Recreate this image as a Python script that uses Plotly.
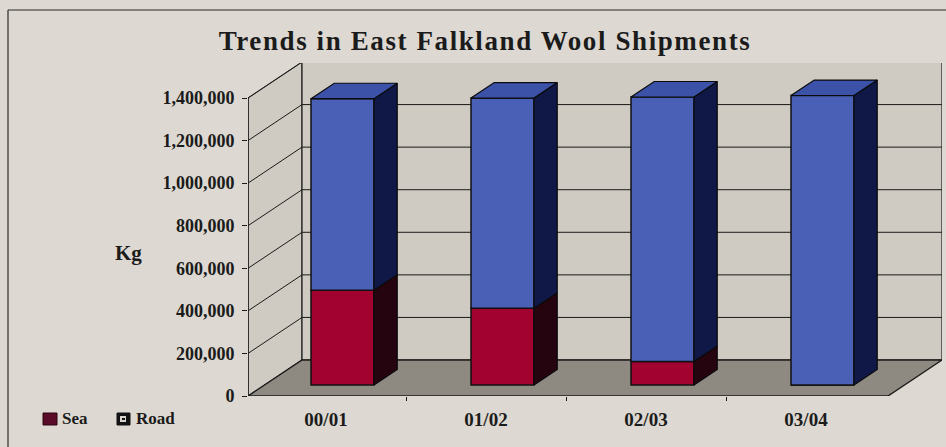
import plotly.graph_objects as go

# ---- data -------------------------------------------------------------
periods = ["00/01", "01/02", "02/03", "03/04"]
sea_kg = [445000, 360000, 110000, 0]
road_kg = [900000, 988000, 1243000, 1360000]
y_ticks = [0, 200000, 400000, 600000, 800000, 1000000, 1200000, 1400000]

# ---- page / projection geometry (pixels) -------------------------------
W, H = 946, 447
ML, MR, MT, MB = 248, 4, 63, 51
PW, PH = W - ML - MR, H - MT - MB
PX_PER_X = 160.0                     # pixels per category step
Y_MAX = y_ticks[-1]
Y_PER_PX = Y_MAX / 298.0             # kg per pixel on the front plane
XMIN = -0.4875                       # left edge of the floor (front)
N_CAT = len(periods)

WALL_DX = 54 / PX_PER_X              # oblique depth offset of the walls
WALL_DY = 36 * Y_PER_PX
BAR_D0 = 11 / 36                     # depth at which the bar fronts sit
BAR_DEPTH = 0.43                     # bar depth as a fraction of wall depth
BAR_W = 63 / PX_PER_X

x_range = [XMIN, XMIN + PW / PX_PER_X]
y_range = [0, PH * Y_PER_PX]


def poly(points):
    return "M " + " L ".join(f"{x},{y}" for x, y in points) + " Z"


WALL = "#cfcbc3"
FLOOR = "#8e8a81"
INK = "#1b1b1b"

shapes = []
# left wall, back wall, floor
shapes.append(dict(type="path", xref="x", yref="y", layer="below",
                   path=poly([(XMIN, 0), (XMIN, Y_MAX),
                              (XMIN + WALL_DX, Y_MAX + WALL_DY),
                              (XMIN + WALL_DX, WALL_DY)]),
                   fillcolor=WALL, line=dict(color=INK, width=1)))
shapes.append(dict(type="path", xref="x", yref="y", layer="below",
                   path=poly([(XMIN + WALL_DX, WALL_DY),
                              (XMIN + N_CAT + WALL_DX, WALL_DY),
                              (XMIN + N_CAT + WALL_DX, Y_MAX + WALL_DY),
                              (XMIN + WALL_DX, Y_MAX + WALL_DY)]),
                   fillcolor=WALL, line=dict(color=INK, width=1.2)))
shapes.append(dict(type="path", xref="x", yref="y", layer="below",
                   path=poly([(XMIN, 0), (XMIN + N_CAT, 0),
                              (XMIN + N_CAT + WALL_DX, WALL_DY),
                              (XMIN + WALL_DX, WALL_DY)]),
                   fillcolor=FLOOR, line=dict(color=INK, width=1.4)))
# gridlines across the left wall and the back wall
for v in y_ticks[1:]:
    shapes.append(dict(type="line", xref="x", yref="y", layer="below",
                       x0=XMIN, y0=v, x1=XMIN + WALL_DX, y1=v + WALL_DY,
                       line=dict(color=INK, width=1)))
    shapes.append(dict(type="line", xref="x", yref="y", layer="below",
                       x0=XMIN + WALL_DX, y0=v + WALL_DY,
                       x1=XMIN + N_CAT + WALL_DX, y1=v + WALL_DY,
                       line=dict(color=INK, width=1)))
# value axis line
shapes.append(dict(type="line", xref="x", yref="y", layer="above",
                   x0=XMIN, y0=-6 * Y_PER_PX, x1=XMIN, y1=Y_MAX,
                   line=dict(color=INK, width=1.5)))

# ---- bars -------------------------------------------------------------
SEA_FRONT, SEA_SIDE = "#a1022f", "#26040f"
ROAD_FRONT, ROAD_SIDE, ROAD_TOP = "#4a60b6", "#101848", "#3c52a8"

x_front = [i + BAR_D0 * WALL_DX for i in range(N_CAT)]
base0 = BAR_D0 * WALL_DY
bdx = BAR_DEPTH * WALL_DX
bdy = BAR_DEPTH * WALL_DY

sea_base = [base0] * N_CAT
road_base = [base0 + s for s in sea_kg]

fig = go.Figure()
fig.add_trace(go.Bar(x=x_front, y=sea_kg, base=sea_base, width=BAR_W,
                     name="Sea", marker=dict(color=SEA_FRONT,
                                             line=dict(color="#111", width=1.5)),
                     customdata=periods,
                     hovertemplate="%{customdata}<br>Sea: %{y:,} kg<extra></extra>"))
fig.add_trace(go.Bar(x=x_front, y=road_kg, base=road_base, width=BAR_W,
                     name="Road", marker=dict(color=ROAD_FRONT,
                                              line=dict(color="#111", width=1.5)),
                     customdata=periods,
                     hovertemplate="%{customdata}<br>Road: %{y:,} kg<extra></extra>"))


def side_faces(bases, values):
    xs, ys = [], []
    for xc, b, v in zip(x_front, bases, values):
        if v <= 0:
            continue
        xr = xc + BAR_W / 2
        for px, py in [(xr, b), (xr + bdx, b + bdy), (xr + bdx, b + v + bdy),
                       (xr, b + v), (xr, b)]:
            xs.append(px)
            ys.append(py)
        xs.append(None)
        ys.append(None)
    return xs, ys


def top_faces():
    xs, ys = [], []
    for xc, s, r in zip(x_front, sea_kg, road_kg):
        top = base0 + s + r
        xl, xr = xc - BAR_W / 2, xc + BAR_W / 2
        for px, py in [(xl, top), (xr, top), (xr + bdx, top + bdy),
                       (xl + bdx, top + bdy), (xl, top)]:
            xs.append(px)
            ys.append(py)
        xs.append(None)
        ys.append(None)
    return xs, ys


for (xs, ys), col in [(side_faces(sea_base, sea_kg), SEA_SIDE),
                      (side_faces(road_base, road_kg), ROAD_SIDE),
                      (top_faces(), ROAD_TOP)]:
    fig.add_trace(go.Scatter(x=xs, y=ys, mode="lines", fill="toself",
                             fillcolor=col, line=dict(color="#0a0a0a", width=1.2),
                             hoverinfo="skip", showlegend=False))


# ---- legend, labels and frame (pixel helpers) --------------------------
def px_x(px):
    return (px - ML) / PW


def px_y(py):
    return (H - MB - py) / PH


shapes.append(dict(type="rect", xref="paper", yref="paper", layer="above",
                   x0=px_x(43), x1=px_x(57), y0=px_y(425), y1=px_y(413),
                   fillcolor="#5a0b27", line=dict(color="#2a0510", width=1)))
shapes.append(dict(type="rect", xref="paper", yref="paper", layer="above",
                   x0=px_x(117), x1=px_x(130), y0=px_y(425), y1=px_y(413),
                   fillcolor="#121212", line=dict(color="#121212", width=1)))
shapes.append(dict(type="rect", xref="paper", yref="paper", layer="above",
                   x0=px_x(120), x1=px_x(126), y0=px_y(422), y1=px_y(416),
                   fillcolor="#d8d4cc", line=dict(width=0)))
shapes.append(dict(type="rect", xref="paper", yref="paper", layer="above",
                   x0=px_x(122), x1=px_x(125), y0=px_y(420), y1=px_y(418),
                   fillcolor="#121212", line=dict(width=0)))
# outer frame
shapes.append(dict(type="line", xref="paper", yref="paper", layer="above",
                   x0=px_x(8), x1=px_x(W + 2), y0=px_y(10), y1=px_y(10),
                   line=dict(color="#2a2a2a", width=1.2)))
shapes.append(dict(type="line", xref="paper", yref="paper", layer="above",
                   x0=px_x(8), x1=px_x(8), y0=px_y(10), y1=px_y(H + 2),
                   line=dict(color="#2a2a2a", width=1.2)))

SERIF = "Liberation Serif"
annotations = [
    dict(text="<b>Kg</b>", xref="paper", yref="paper", x=px_x(128), y=px_y(253),
         showarrow=False, font=dict(family=SERIF, size=21, color=INK),
         xanchor="center", yanchor="middle"),
    dict(text="<b>Sea</b>", xref="paper", yref="paper", x=px_x(60), y=px_y(419),
         showarrow=False, font=dict(family=SERIF, size=17, color=INK),
         xanchor="left", yanchor="middle"),
    dict(text="<b>Road</b>", xref="paper", yref="paper", x=px_x(134), y=px_y(419),
         showarrow=False, font=dict(family=SERIF, size=17, color=INK),
         xanchor="left", yanchor="middle"),
]

fig.update_layout(
    width=W, height=H,
    margin=dict(l=ML, r=MR, t=MT, b=MB, pad=0),
    paper_bgcolor="#ddd9d2", plot_bgcolor="#ddd9d2",
    barmode="overlay", showlegend=False,
    title=dict(text='<span style="letter-spacing:1.6px"><b>Trends in East '
                    'Falkland Wool Shipments</b></span>',
               x=485 / W, xanchor="center", y=1 - 41 / H, yanchor="middle",
               font=dict(family=SERIF, size=27, color=INK)),
    xaxis=dict(range=x_range, tickmode="array", tickvals=list(range(N_CAT)),
               ticktext=periods, showgrid=False, zeroline=False, showline=False,
               ticks="", ticklabelstandoff=10,
               tickfont=dict(family=SERIF, size=19, color=INK, weight="bold"),
               minor=dict(tickvals=[i + 0.5 for i in range(N_CAT - 1)],
                          ticks="outside", ticklen=4, tickcolor=INK),
               fixedrange=True),
    yaxis=dict(range=y_range, tickmode="array", tickvals=y_ticks,
               tickformat=",d", showgrid=False, zeroline=False, showline=False,
               ticks="outside", ticklen=5, tickcolor=INK,
               tickfont=dict(family=SERIF, size=18, color=INK, weight="bold"),
               ticklabelstandoff=4, fixedrange=True),
    shapes=shapes, annotations=annotations,
)

fig.write_html("out.html")
